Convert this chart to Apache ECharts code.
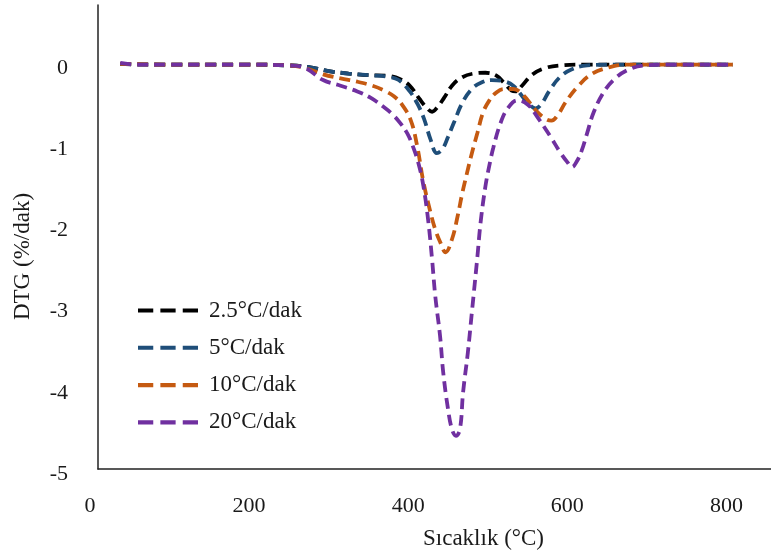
<!DOCTYPE html>
<html>
<head>
<meta charset="utf-8">
<script src="https://cdn.jsdelivr.net/npm/echarts@6/dist/echarts.min.js"></script>
<style>
  html, body { margin: 0; padding: 0; background: #fff; }
  #chartmain { width: 771px; height: 555px; }
</style>
</head>
<body>
<div id="chartmain"></div>
<script>
// series names (legend)
var names = ['2.5°C/dak', '5°C/dak', '10°C/dak', '20°C/dak'];
var colors = ['#000000', '#1f4e79', '#c55a11', '#7030a0'];

// x ticks (temperature) and y ticks (DTG)
var xTicks = [0, 200, 400, 600, 800];
var yTicks = [-5, -4, -3, -2, -1, 0];

// [temperature °C, DTG %/dak]
var rate2_5 = [[38,0.05],[60,0.04],[100,0.04],[150,0.04],[200,0.04],[250,0.03],[275,0.01],[300,-0.04],[325,-0.07],[350,-0.09],[375,-0.10],[390,-0.14],[402,-0.22],[414,-0.38],[424,-0.5],[430,-0.54],[437,-0.48],[445,-0.37],[455,-0.22],[467,-0.12],[482,-0.07],[497,-0.06],[510,-0.09],[520,-0.18],[530,-0.28],[535,-0.29],[543,-0.22],[555,-0.09],[570,-0.01],[590,0.03],[620,0.04],[680,0.04],[750,0.04],[808,0.04]];
var rate5 = [[38,0.05],[100,0.04],[200,0.04],[250,0.03],[275,0.01],[300,-0.04],[325,-0.07],[350,-0.09],[375,-0.11],[388,-0.15],[402,-0.29],[412,-0.45],[420,-0.63],[428,-0.88],[436,-1.05],[443,-1.0],[450,-0.85],[458,-0.66],[468,-0.43],[480,-0.26],[492,-0.18],[505,-0.15],[518,-0.16],[532,-0.22],[545,-0.37],[553,-0.46],[560,-0.5],[567,-0.45],[577,-0.29],[590,-0.12],[605,-0.02],[625,0.03],[660,0.04],[750,0.04],[808,0.04]];
var rate10 = [[38,0.05],[100,0.04],[200,0.04],[250,0.03],[270,0.0],[293,-0.08],[315,-0.13],[336,-0.17],[355,-0.22],[370,-0.28],[382,-0.35],[392,-0.45],[403,-0.64],[411,-0.95],[419,-1.4],[428,-1.78],[434,-1.99],[440,-2.14],[447,-2.27],[455,-2.11],[462,-1.83],[468,-1.54],[474,-1.29],[480,-1.05],[487,-0.8],[494,-0.55],[502,-0.4],[510,-0.31],[520,-0.26],[532,-0.26],[545,-0.34],[560,-0.52],[573,-0.63],[580,-0.65],[588,-0.58],[598,-0.42],[613,-0.23],[630,-0.08],[650,0.0],[675,0.04],[720,0.04],[808,0.04]];
var rate20 = [[38,0.06],[60,0.04],[100,0.04],[200,0.04],[250,0.03],[270,0.0],[293,-0.15],[315,-0.22],[336,-0.29],[353,-0.37],[369,-0.48],[380,-0.57],[390,-0.68],[399,-0.81],[406,-0.97],[413,-1.18],[419,-1.45],[425,-1.87],[430,-2.36],[434,-2.81],[440,-3.3],[444,-3.75],[450,-4.2],[455,-4.45],[460,-4.53],[465,-4.45],[469,-3.99],[475,-3.5],[480,-3.01],[487,-2.32],[491,-1.9],[497,-1.46],[502,-1.2],[507,-0.98],[516,-0.68],[525,-0.5],[537,-0.4],[550,-0.45],[562,-0.6],[579,-0.85],[591,-1.04],[600,-1.16],[606,-1.22],[612,-1.15],[618,-1.02],[625,-0.8],[633,-0.55],[645,-0.31],[658,-0.15],[675,-0.03],[696,0.03],[730,0.04],[808,0.04]];

var allData = [rate2_5, rate5, rate10, rate20];

window.onload = function(){
    var font = '"Liberation Serif", "Times New Roman", serif';
    var textColor = '#1a1a1a';
    // three short dashes as legend icon
    var dashIcon = 'path://M0,0h15v4h-15z M22,0h15v4h-15z M44,0h15v4h-15z';

    var series = [];
    for (var i = 0; i < names.length; i++) {
        series.push({
            name: names[i],
            type: 'line',
            xAxisIndex: 0,
            yAxisIndex: 0,
            smooth: 0.4,
            symbol: 'none',
            color: colors[i],
            lineStyle: { color: colors[i], width: 3.8, type: [11, 6] },
            data: allData[i]
        });
    }

    var option = {
        animation: false,
        backgroundColor: '#fff',
        textStyle: { fontFamily: font },
        legend: {
            orient: 'vertical',
            left: 133,
            top: 294,
            itemWidth: 60,
            itemHeight: 22,
            itemGap: 14.3,
            icon: dashIcon,
            textStyle: { fontFamily: font, fontSize: 23, color: textColor, lineHeight: 22, padding: [0, 0, 0, 6] },
            data: names
        },
        grid: [
            // data grid
            { left: 90, right: 0, top: 5, bottom: 80 },
            // frame grid (axis lines only)
            { left: 98, right: 0, top: 5, bottom: 86 }
        ],
        xAxis: [
            {
                type: 'value',
                gridIndex: 0,
                min: 0,
                max: 856,
                interval: 200,
                name: 'Sıcaklık (°C)',
                nameLocation: 'middle',
                nameGap: 53,
                nameTextStyle: { fontFamily: font, fontSize: 23, color: textColor, padding: [0, 0, 0, 106] },
                axisLine: { show: false },
                axisTick: { show: false },
                splitLine: { show: false },
                axisLabel: {
                    fontFamily: font, fontSize: 22, color: textColor, margin: 21,
                    showMaxLabel: false,
                    formatter: function (v) { return xTicks.indexOf(v) >= 0 ? String(v) : ''; }
                }
            },
            {
                type: 'value',
                gridIndex: 1,
                min: 0,
                max: 1,
                axisLine: { show: true, lineStyle: { color: '#222', width: 1.5 } },
                axisTick: { show: false },
                axisLabel: { show: false },
                splitLine: { show: false }
            }
        ],
        yAxis: [
            {
                type: 'value',
                gridIndex: 0,
                min: -5,
                max: 0.774,
                interval: 1,
                name: 'DTG (%/dak)',
                nameLocation: 'middle',
                nameGap: 56,
                nameTextStyle: { fontFamily: font, fontSize: 23, color: textColor, padding: [0, 34, 0, 0] },
                axisLine: { show: false },
                axisTick: { show: false },
                splitLine: { show: false },
                axisLabel: {
                    fontFamily: font, fontSize: 22, color: textColor, margin: 22,
                    showMaxLabel: false,
                    formatter: function (v) { return yTicks.indexOf(v) >= 0 ? String(v) : ''; }
                }
            },
            {
                type: 'value',
                gridIndex: 1,
                min: 0,
                max: 1,
                axisLine: { show: true, lineStyle: { color: '#222', width: 1.5 } },
                axisTick: { show: false },
                axisLabel: { show: false },
                splitLine: { show: false }
            }
        ],
        series: series
    };

    var myChart = echarts.init(document.getElementById('chartmain'));
    myChart.setOption(option);
};
</script>
</body>
</html>
